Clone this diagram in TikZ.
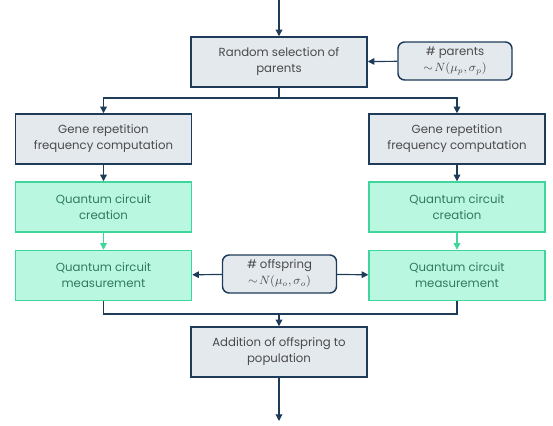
\documentclass[tikz,border=0pt]{standalone}
\usepackage{fontspec}
\setmainfont{Poppins}
\usetikzlibrary{arrows.meta, positioning}

\definecolor{navy}{HTML}{1F3B5A}
\definecolor{greyfill}{HTML}{E4E9EE}
\definecolor{greentint}{HTML}{BAF7E0}
\definecolor{greenline}{HTML}{3FD69C}
\definecolor{greentext}{HTML}{2F7A62}
\definecolor{greytext}{HTML}{4A4A4A}

\tikzset{
  stagebox/.style={draw=navy, line width=1.1pt, fill=greyfill, text=greytext,
    minimum width=132pt, minimum height=37.5pt, align=center,
    font=\fontsize{8.8}{12}\selectfont, inner sep=2pt},
  qbox/.style={stagebox, draw=greenline, fill=greentint, text=greentext},
  parambox/.style={stagebox, rounded corners=5pt, minimum width=85.5pt,
    minimum height=28.5pt},
  flow/.style={navy, line width=0.9pt},
  arr/.style={flow, -{Triangle[length=5pt, width=5pt]}},
  garr/.style={arr, greenline}
}

\begin{document}
\begin{tikzpicture}[x=0.75pt, y=-0.75pt]
\useasboundingbox (0,0) rectangle (553,425);

% main column
\node[stagebox] (select) at (279,62) {Random selection of\\parents};
\node[parambox] (parents) at (455,61) {\# parents\\$\sim\! N(\mu_p,\sigma_p)$};
\node[stagebox] (add) at (279,352) {Addition of offspring to\\population};

% left branch
\node[stagebox] (geneL) at (103.5,139) {Gene repetition\\frequency computation};
\node[qbox] (createL) at (103.5,207) {Quantum circuit\\creation};
\node[qbox] (measL) at (103.5,275.5) {Quantum circuit\\measurement};

% right branch
\node[stagebox] (geneR) at (457,139) {Gene repetition\\frequency computation};
\node[qbox] (createR) at (457,207) {Quantum circuit\\creation};
\node[qbox] (measR) at (457,275.5) {Quantum circuit\\measurement};

\node[parambox] (offspring) at (279.5,274) {\# offspring\\$\sim\! N(\mu_o,\sigma_o)$};

\coordinate (in) at (279,0);
\coordinate (split) at (279,98);
\coordinate (merge) at (279,314);
\coordinate (out) at (279,421);

% connectors
\draw[arr] (in) -- (select);
\draw[arr] (parents) -- (select);
\draw[flow] (select) -- (split);
\draw[arr] (split) -| (geneL);
\draw[arr] (split) -| (geneR);
\draw[arr] (geneL) -- (createL);
\draw[arr] (geneR) -- (createR);
\draw[garr] (createL) -- (measL);
\draw[garr] (createR) -- (measR);
\draw[arr] (offspring) -- (measL);
\draw[arr] (offspring) -- (measR);
\draw[flow] (measL) |- (merge);
\draw[flow] (measR) |- (merge);
\draw[arr] (merge) -- (add);
\draw[arr] (add) -- (out);

\end{tikzpicture}
\end{document}
